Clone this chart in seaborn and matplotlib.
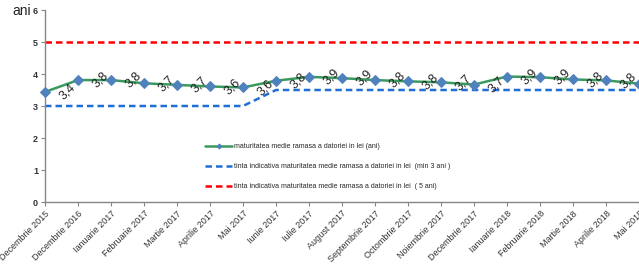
import pandas as pd
import seaborn as sns
import matplotlib.pyplot as plt

luni = ['Decembrie 2015', 'Decembrie 2016', 'Ianuarie 2017', 'Februarie 2017', 'Martie 2017',
        'Aprilie 2017', 'Mai 2017', 'Iunie 2017', 'Iulie 2017', 'August 2017', 'Septembrie 2017',
        'Octombrie 2017', 'Noiembrie 2017', 'Decembrie 2017', 'Ianuarie 2018', 'Februarie 2018',
        'Martie 2018', 'Aprilie 2018', 'Mai 2018']
maturitate = [3.44, 3.81, 3.81, 3.71, 3.66, 3.61, 3.58, 3.79, 3.91, 3.87, 3.81, 3.77,
              3.74, 3.67, 3.92, 3.90, 3.83, 3.80, 3.70]
tinta_min = [3, 3, 3, 3, 3, 3, 3, 3.5, 3.5, 3.5, 3.5, 3.5, 3.5, 3.5, 3.5, 3.5, 3.5, 3.5, 3.5]
tinta_5 = [5] * len(luni)

lbl_mat = 'maturitatea medie ramasa a datoriei in lei (ani)'
lbl_min = 'tinta indicativa maturitatea medie ramasa a datoriei in lei  (min 3 ani )'
lbl_5 = 'tinta indicativa maturitatea medie ramasa a datoriei in lei  ( 5 ani)'

df = pd.DataFrame({'pos': range(len(luni)), 'luna': luni, 'mat': maturitate,
                   'min': tinta_min, 'max': tinta_5})

sns.set_style('white')
plt.rcParams['font.family'] = ['Liberation Sans', 'DejaVu Sans']

fig = plt.figure(figsize=(6.39, 2.71), dpi=100)
ax = fig.add_axes([45 / 639, 1 - 202 / 271, 594 / 639, 192 / 271])

sns.lineplot(data=df, x='pos', y='mat', ax=ax, color='#3a9a5e', linewidth=1.8,
             marker='D', markersize=5, markerfacecolor='#4f81bd', markeredgecolor='#4f81bd',
             label=lbl_mat, clip_on=False, zorder=3)
sns.lineplot(data=df, x='pos', y='min', ax=ax, color='#1f6fd6', linewidth=1.8,
             linestyle=(0, (2.6, 1.6)), label=lbl_min)
sns.lineplot(data=df, x='pos', y='max', ax=ax, color='#ff0000', linewidth=1.8,
             linestyle=(0, (2.6, 1.6)), label=lbl_5)

for i, v in enumerate(maturitate):
    ax.annotate(f'{v:.1f}'.replace('.', ','), (i, v), xytext=(16, 0), textcoords='offset points',
                ha='center', va='center', rotation=45, fontsize=9, color='#222222',
                annotation_clip=False, clip_on=True)

ax.set_xlim(0, len(luni) - 1)
ax.set_ylim(0, 6)
ax.set_xticks(range(len(luni)))
ax.set_xticklabels(luni, rotation=45, ha='right', rotation_mode='anchor', fontsize=6.5,
                   color='#333333')
ax.set_yticks(range(7))
ax.set_yticklabels([str(t) for t in range(7)], fontsize=6.5, color='#333333', fontweight='bold')
ax.set_xlabel('')
ax.set_ylabel('')
ax.tick_params(axis='both', which='both', length=3, width=0.8, color='#868686',
               bottom=True, left=True, pad=2)
for s in ['top', 'right']:
    ax.spines[s].set_visible(False)
for s in ['left', 'bottom']:
    ax.spines[s].set_color('#868686')
    ax.spines[s].set_linewidth(1)

fig.text(12 / 639, 1 - 11 / 271, 'ani', fontsize=10, va='center', ha='left', color='#222222')

leg = ax.legend(loc='upper left', bbox_to_anchor=(205 / 639, 1 - 143 / 271),
                bbox_transform=fig.transFigure, frameon=False, fontsize=5, handlelength=3.9,
                handletextpad=0.3, labelspacing=1.9, borderpad=0, borderaxespad=0)
leg.legend_handles[0].set_markersize(2.5)

plt.savefig('out.png', dpi=100)
